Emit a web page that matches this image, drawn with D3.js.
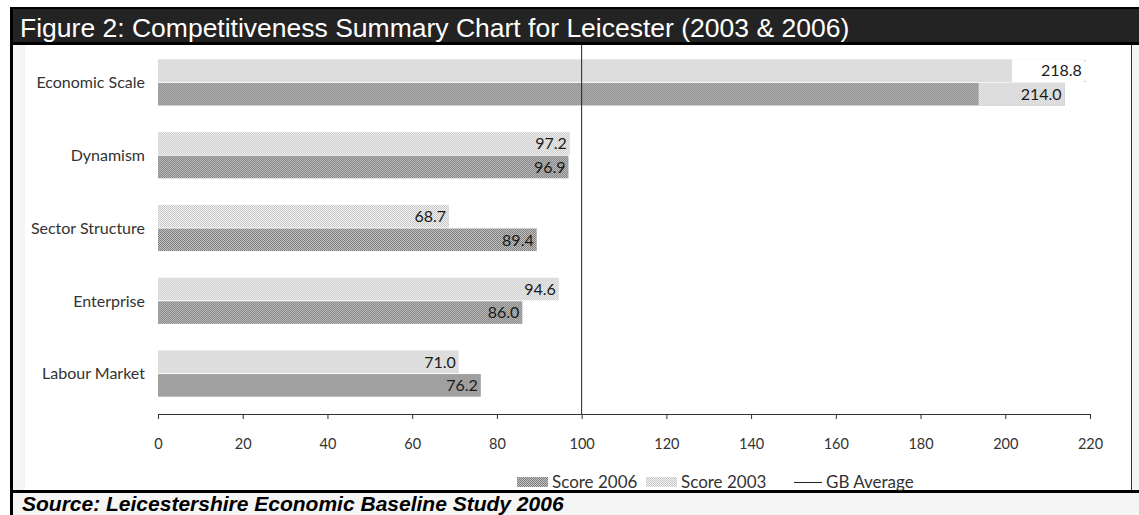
<!DOCTYPE html>
<html>
<head>
<meta charset="utf-8">
<script src="https://cdn.jsdelivr.net/npm/d3@7"></script>
<style>
  html, body { margin: 0; padding: 0; background: #fff; }
  svg { display: block; }
</style>
</head>
<body>
<svg id="chart" width="1139" height="515"></svg>
<script>
// Competitiveness index by theme, GB average = 100
const categories = ["Economic Scale", "Dynamism", "Sector Structure", "Enterprise", "Labour Market"];
const score2003 = [218.8, 97.2, 68.7, 94.6, 71.0];
const score2006 = [214.0, 96.9, 89.4, 86.0, 76.2];
const gbAverage = 100;
const tickValues = [0, 20, 40, 60, 80, 100, 120, 140, 160, 180, 200, 220];
const seriesNames = ["Score 2006", "Score 2003", "GB Average"];

const W = 1139, H = 515;
const svg = d3.select("#chart");
const chartFont = "Lato, 'Open Sans', sans-serif";

// checker-dithered fills
const defs = svg.append("defs");
function checker(id, light, dark) {
  const p = defs.append("pattern").attr("id", id)
    .attr("width", 2).attr("height", 2).attr("patternUnits", "userSpaceOnUse");
  p.append("rect").attr("width", 2).attr("height", 2).attr("fill", light);
  p.append("rect").attr("x", 0).attr("y", 0).attr("width", 1).attr("height", 1).attr("fill", dark);
  p.append("rect").attr("x", 1).attr("y", 1).attr("width", 1).attr("height", 1).attr("fill", dark);
}
checker("fill2006", "#c4c4c4", "#7c7c7c");
checker("fill2003", "#f4f4f4", "#c6c6c6");

// frame
svg.append("rect").attr("width", W).attr("height", H).attr("fill", "#ffffff");
svg.append("rect").attr("x", 10).attr("y", 44).attr("width", W - 10).attr("height", H - 44).attr("fill", "#f5f5f5");
svg.append("rect").attr("x", 25).attr("y", 45).attr("width", 1106).attr("height", 446).attr("fill", "#ffffff");
svg.append("line").attr("x1", 1131.5).attr("x2", 1131.5).attr("y1", 45).attr("y2", 491)
  .attr("stroke", "#333").attr("stroke-width", 1);

// title bar
svg.append("rect").attr("x", 10).attr("y", 7).attr("width", W - 10).attr("height", 38).attr("fill", "#000");
svg.append("rect").attr("x", 10).attr("y", 9).attr("width", W - 10).attr("height", 33).attr("fill", "#232323");
svg.append("text").attr("x", 20).attr("y", 37)
  .attr("font-family", "'Liberation Sans', Arial, sans-serif").attr("font-size", 26.5)
  .attr("fill", "#ffffff")
  .text("Figure 2: Competitiveness Summary Chart for Leicester (2003 & 2006)");

// left rule and bottom rule
svg.append("rect").attr("x", 10).attr("y", 7).attr("width", 3).attr("height", H - 7).attr("fill", "#000");
svg.append("rect").attr("x", 10).attr("y", 490).attr("width", W - 10).attr("height", 3).attr("fill", "#000");

svg.append("text").attr("x", 22).attr("y", 511)
  .attr("font-family", "'Liberation Sans', Arial, sans-serif").attr("font-size", 21)
  .attr("font-weight", "bold").attr("font-style", "italic").attr("fill", "#000")
  .text("Source:  Leicestershire Economic Baseline Study 2006");

// scales
const x = d3.scaleLinear().domain([0, 220]).range([158, 1090]);
const y0 = d3.scaleBand().domain(categories).range([46, 410]).paddingInner(0.34).paddingOuter(0.17);
const y1 = d3.scaleBand().domain(["2003", "2006"]).range([0, y0.bandwidth()]).padding(0.04);

const rows = categories.map((c, i) => ({ cat: c, s2003: score2003[i], s2006: score2006[i] }));

const g = svg.append("g");
const groups = g.selectAll("g.cat").data(rows).join("g")
  .attr("transform", d => `translate(0,${y0(d.cat)})`);

const fmt = d3.format(".1f");
const series = [
  { key: "2003", val: d => d.s2003, fill: "url(#fill2003)" },
  { key: "2006", val: d => d.s2006, fill: "url(#fill2006)" }
];

series.forEach(s => {
  groups.append("rect")
    .attr("x", x(0))
    .attr("y", y1(s.key))
    .attr("width", d => x(s.val(d)) - x(0))
    .attr("height", y1.bandwidth())
    .attr("fill", s.fill);
});

// label plates on the longest row (labels sit on boxed backgrounds there)
const first = rows[0];
const gFirst = groups.filter(d => d.cat === first.cat);
gFirst.append("rect")
  .attr("x", x(first.s2003) - 73).attr("y", y1("2003"))
  .attr("width", 73).attr("height", y1.bandwidth()).attr("fill", "#ffffff");
gFirst.append("rect")
  .attr("x", x(first.s2003) - 0.5).attr("y", y1("2003") + 1)
  .attr("width", 1).attr("height", 1).attr("fill", "#999");
gFirst.append("rect")
  .attr("x", x(first.s2003) - 0.5).attr("y", y1("2003") + y1.bandwidth() - 1)
  .attr("width", 1).attr("height", 1).attr("fill", "#999");
gFirst.append("rect")
  .attr("x", x(first.s2006) - 86).attr("y", y1("2006"))
  .attr("width", 86).attr("height", y1.bandwidth()).attr("fill", "url(#fill2003)");

// value labels
series.forEach(s => {
  groups.append("text")
    .attr("x", d => x(s.val(d)) - 3)
    .attr("y", y1(s.key) + y1.bandwidth() / 2)
    .attr("dy", "0.36em")
    .attr("text-anchor", "end")
    .attr("font-family", chartFont).attr("font-size", 16)
    .attr("fill", "#1a1a1a")
    .text(d => fmt(s.val(d)));
});

// category labels
groups.append("text")
  .attr("x", 145)
  .attr("y", y0.bandwidth() / 2)
  .attr("dy", "0.36em")
  .attr("text-anchor", "end")
  .attr("font-family", chartFont).attr("font-size", 16)
  .attr("fill", "#333")
  .text(d => d.cat);

// GB average reference line
svg.append("line")
  .attr("x1", x(gbAverage)).attr("x2", x(gbAverage))
  .attr("y1", 45).attr("y2", 414)
  .attr("stroke", "#222").attr("stroke-width", 1);

// value axis
const axis = d3.axisBottom(x).tickValues(tickValues).tickSize(5).tickPadding(20).tickSizeOuter(5);
const ax = svg.append("g").attr("transform", "translate(0,414)").call(axis);
ax.select(".domain").attr("stroke", "#333");
ax.selectAll(".tick line").attr("stroke", "#333");
ax.selectAll(".tick text").attr("font-family", chartFont).attr("font-size", 14.5).attr("fill", "#333");

// legend
const leg = svg.append("g").attr("transform", "translate(0,482)");
const legItems = [
  { name: seriesNames[0], x: 517, type: "box", fill: "url(#fill2006)" },
  { name: seriesNames[1], x: 646, type: "box", fill: "url(#fill2003)" },
  { name: seriesNames[2], x: 794, type: "line" }
];
legItems.forEach(it => {
  if (it.type === "box") {
    leg.append("rect").attr("x", it.x).attr("y", -5).attr("width", 31).attr("height", 10).attr("fill", it.fill);
  } else {
    leg.append("line").attr("x1", it.x).attr("x2", it.x + 28).attr("y1", 0.5).attr("y2", 0.5)
      .attr("stroke", "#222").attr("stroke-width", 1);
  }
  leg.append("text").attr("x", it.x + (it.type === "box" ? 35 : 32)).attr("y", 0).attr("dy", "0.36em")
    .attr("font-family", chartFont).attr("font-size", 17).attr("fill", "#333")
    .text(it.name);
});
</script>
</body>
</html>
